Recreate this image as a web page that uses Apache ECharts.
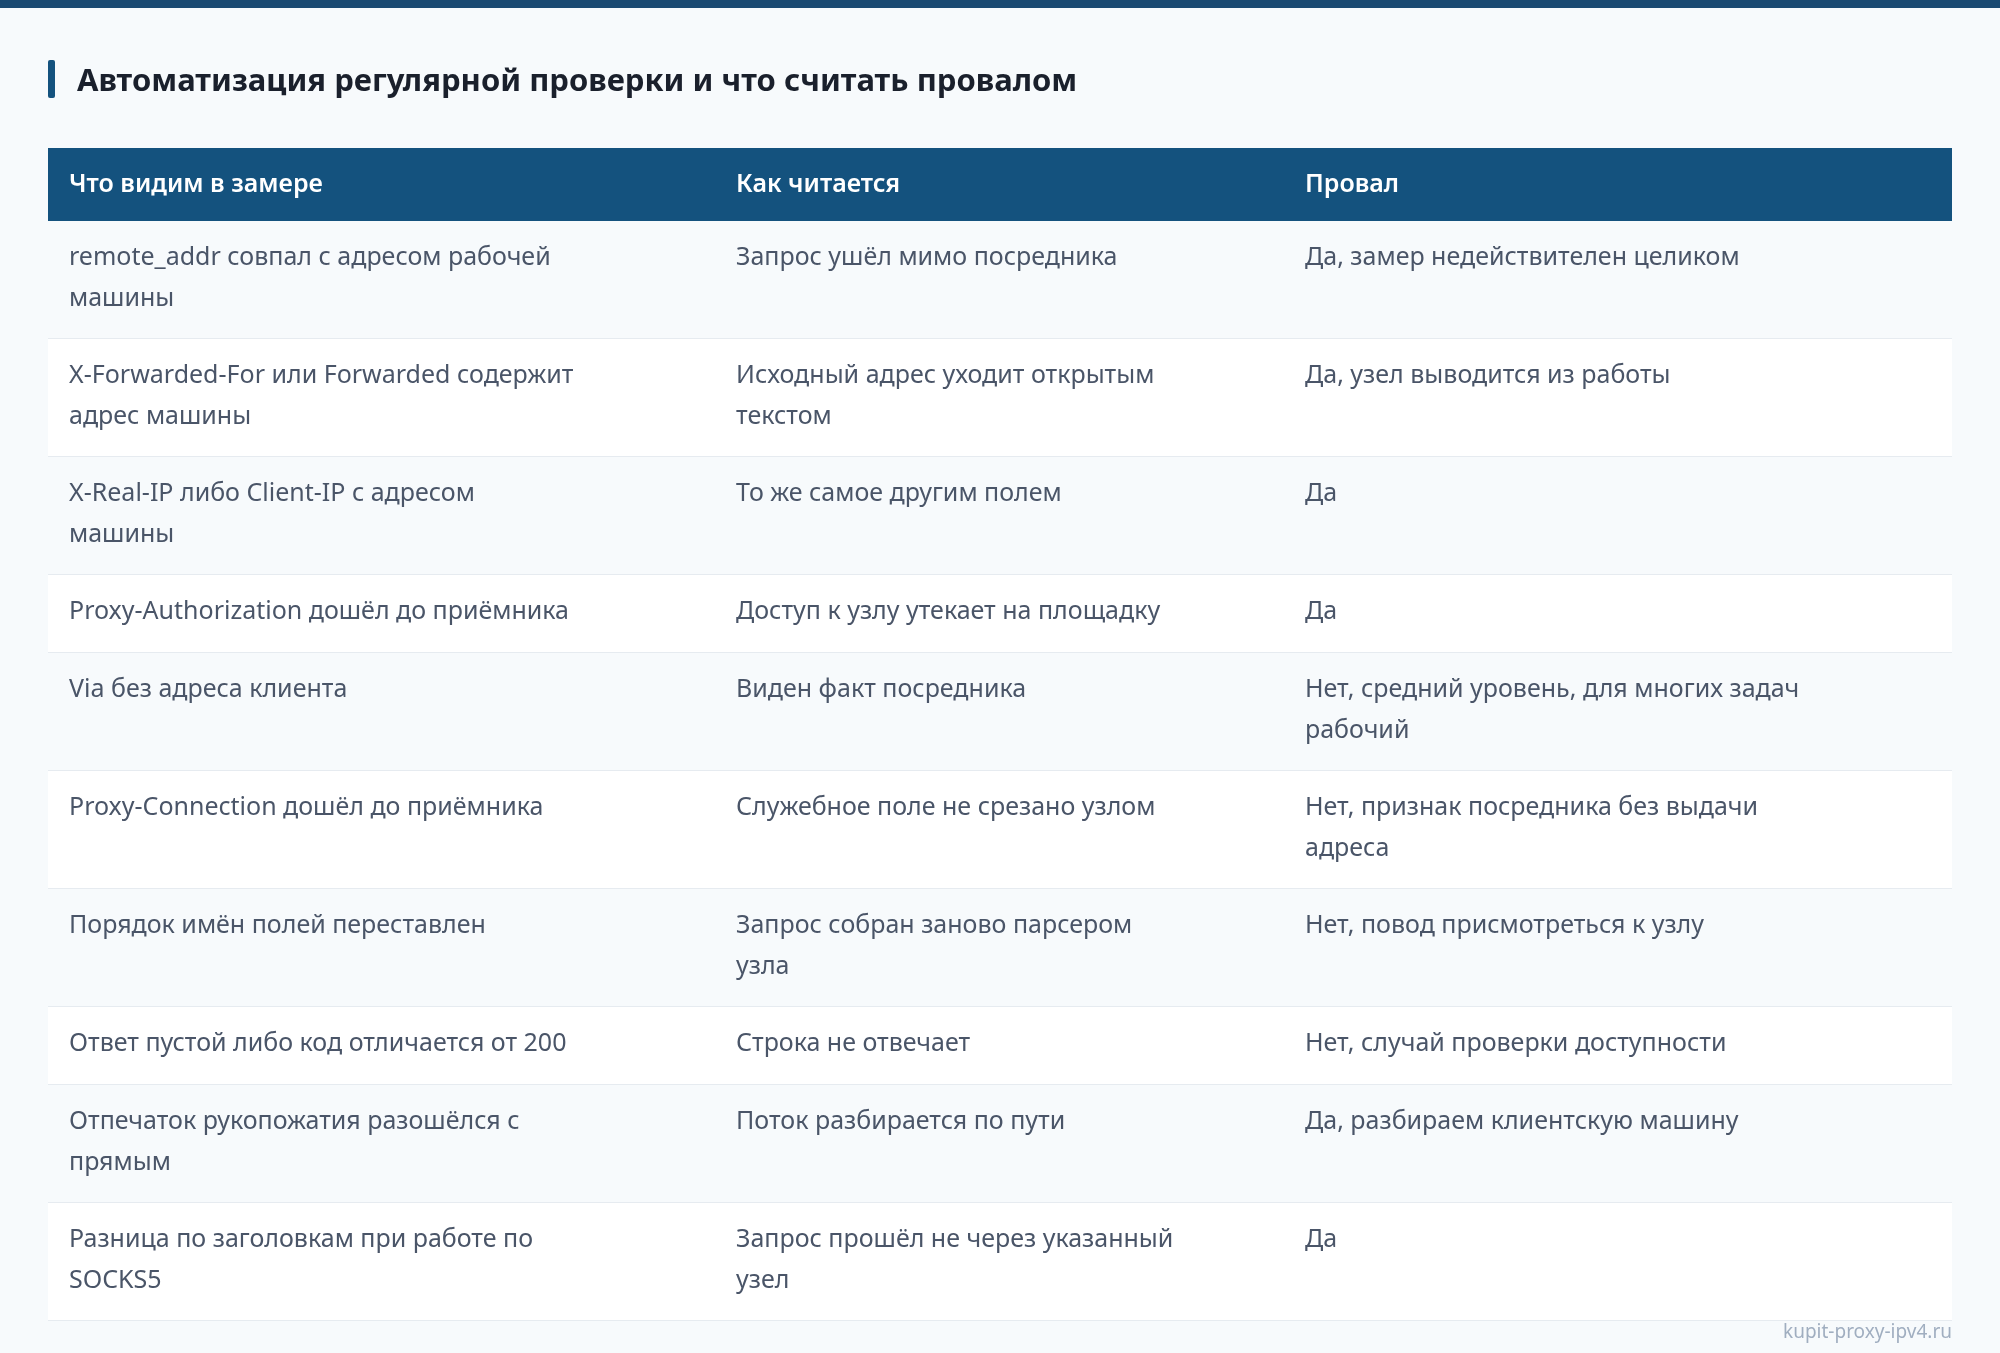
<!DOCTYPE html>
<html lang="ru">
<head>
<meta charset="UTF-8">
<title>Автоматизация регулярной проверки</title>
<script src="https://cdn.jsdelivr.net/npm/echarts@6/dist/echarts.min.js"></script>
<style>
  html, body { margin: 0; padding: 0; background: #f7fafc; }
  #main { width: 2000px; height: 1353px; }
</style>
</head>
<body>
<div id="main"></div>
<script>
// данные таблицы
var title = 'Автоматизация регулярной проверки и что считать провалом';
var headers = ['Что видим в замере', 'Как читается', 'Провал'];
var colSeen = [
  'remote_addr совпал с адресом рабочей\nмашины',
  'X-Forwarded-For или Forwarded содержит\nадрес машины',
  'X-Real-IP либо Client-IP с адресом\nмашины',
  'Proxy-Authorization дошёл до приёмника',
  'Via без адреса клиента',
  'Proxy-Connection дошёл до приёмника',
  'Порядок имён полей переставлен',
  'Ответ пустой либо код отличается от 200',
  'Отпечаток рукопожатия разошёлся с\nпрямым',
  'Разница по заголовкам при работе по\nSOCKS5'
];
var colRead = [
  'Запрос ушёл мимо посредника',
  'Исходный адрес уходит открытым\nтекстом',
  'То же самое другим полем',
  'Доступ к узлу утекает на площадку',
  'Виден факт посредника',
  'Служебное поле не срезано узлом',
  'Запрос собран заново парсером\nузла',
  'Строка не отвечает',
  'Поток разбирается по пути',
  'Запрос прошёл не через указанный\nузел'
];
var colFail = [
  'Да, замер недействителен целиком',
  'Да, узел выводится из работы',
  'Да',
  'Да',
  'Нет, средний уровень, для многих задач\nрабочий',
  'Нет, признак посредника без выдачи\nадреса',
  'Нет, повод присмотреться к узлу',
  'Нет, случай проверки доступности',
  'Да, разбираем клиентскую машину',
  'Да'
];
var footer = 'kupit-proxy-ipv4.ru';

var font = '"Noto Sans", "Open Sans", sans-serif';
var left = 48, right = 1952, colX = [69, 736, 1305];
var headTop = 148, headH = 73;
var els = [];

els.push({ type: 'rect', shape: { x: 0, y: 0, width: 2000, height: 8 }, style: { fill: '#1a4a72' } });
els.push({ type: 'rect', shape: { x: 48, y: 60, width: 7, height: 38, r: 2 }, style: { fill: '#14527e' } });
els.push({ type: 'text', x: 77, y: 82, style: { text: title, font: 'bold 31px ' + font, fill: '#1a202c', verticalAlign: 'middle' } });

els.push({ type: 'rect', shape: { x: left, y: headTop, width: right - left, height: headH }, style: { fill: '#14527e' } });
headers.forEach(function (h, i) {
  els.push({ type: 'text', x: colX[i], y: headTop + headH / 2, style: { text: h, font: '600 25px ' + font, fill: '#ffffff', verticalAlign: 'middle' } });
});

var y = headTop + headH;
for (var r = 0; r < colSeen.length; r++) {
  var cells = [colSeen[r], colRead[r], colFail[r]];
  var lines = Math.max.apply(null, cells.map(function (c) { return c.split('\n').length; }));
  var h = lines > 1 ? 118 : 78;
  els.push({ type: 'rect', shape: { x: left, y: y, width: right - left, height: h }, style: { fill: r % 2 ? '#ffffff' : '#f7fafc' } });
  els.push({ type: 'rect', shape: { x: left, y: y + h - 1, width: right - left, height: 1 }, style: { fill: '#e6ebf0' } });
  cells.forEach(function (c, i) {
    els.push({ type: 'text', x: colX[i], y: y + 16, style: { text: c, font: '25px ' + font, fill: '#4a5568', lineHeight: 41 } });
  });
  y += h;
}

els.push({ type: 'text', x: 1952, y: 1333, style: { text: footer, font: '19px ' + font, fill: '#a0aec0', align: 'right', verticalAlign: 'middle' } });

var chart = echarts.init(document.getElementById('main'));
chart.setOption({ animation: false, backgroundColor: '#f7fafc', graphic: { elements: els } });
</script>
</body>
</html>
